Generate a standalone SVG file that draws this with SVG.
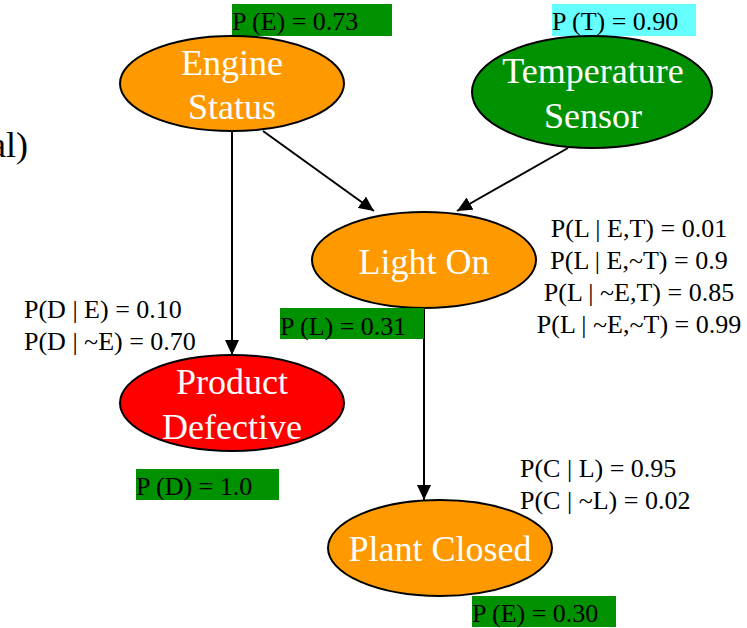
<svg xmlns="http://www.w3.org/2000/svg" width="747" height="628" viewBox="0 0 747 628">
  <defs>
    <marker id="arr" markerUnits="userSpaceOnUse" markerWidth="16" markerHeight="14" refX="15" refY="7" orient="auto">
      <path d="M0,0 L15,7 L0,14 Z" fill="#000"/>
    </marker>
    <style>
      text { font-family: "Liberation Serif", "Times New Roman", serif; }
      .node { stroke: #000; stroke-width: 2; }
      .lbl { fill: #fff; font-size: 36px; text-anchor: middle; }
      .cpt { fill: #000; font-size: 26px; }
      .prob { fill: #000; font-size: 26px; }
      .edge { stroke: #000; stroke-width: 2; fill: none; marker-end: url(#arr); }
      .green { fill: #009100; }
    </style>
  </defs>
  <rect width="747" height="628" fill="#fff"/>

  <text x="28" y="157" text-anchor="end" style="font-size:36px" fill="#000">al)</text>

  <g id="connectors">
    <line class="edge" x1="232" y1="131" x2="232" y2="355"/>
    <line class="edge" x1="263" y1="131" x2="374" y2="211"/>
    <line class="edge" x1="568" y1="148" x2="457" y2="211"/>
    <line class="edge" x1="424" y1="308" x2="424" y2="500"/>
  </g>

  <g id="engine">
    <rect class="green" x="232" y="4" width="160" height="32"/>
    <text class="prob" x="232" y="30">P (E) = 0.73</text>
    <ellipse class="node" cx="232" cy="83.5" rx="112" ry="47.5" fill="#ff9900"/>
    <text class="lbl" x="232" y="75">Engine</text>
    <text class="lbl" x="232" y="119">Status</text>
  </g>

  <g id="temperature">
    <rect x="552" y="4" width="144" height="32" fill="#66ffff"/>
    <text class="prob" x="552" y="30">P (T) = 0.90</text>
    <ellipse class="node" cx="592" cy="92" rx="120" ry="56" fill="#009100"/>
    <text class="lbl" x="593" y="83">Temperature</text>
    <text class="lbl" x="593" y="128">Sensor</text>
  </g>

  <g id="light">
    <ellipse class="node" cx="424" cy="260" rx="112" ry="48" fill="#ff9900"/>
    <text class="lbl" x="424" y="274">Light On</text>
    <rect class="green" x="280" y="308" width="144" height="31"/>
    <text class="prob" x="280" y="335">P (L) = 0.31</text>
    <text class="cpt" x="639" y="237" text-anchor="middle">P(L | E,T) = 0.01</text>
    <text class="cpt" x="639" y="269" text-anchor="middle">P(L | E,~T) = 0.9</text>
    <text class="cpt" x="639" y="301" text-anchor="middle">P(L | ~E,T) = 0.85</text>
    <text class="cpt" x="639" y="333" text-anchor="middle">P(L | ~E,~T) = 0.99</text>
  </g>

  <g id="defective">
    <text class="cpt" x="24" y="318">P(D | E) = 0.10</text>
    <text class="cpt" x="24" y="350">P(D | ~E) = 0.70</text>
    <ellipse class="node" cx="232" cy="403" rx="112" ry="48" fill="#ff0000"/>
    <text class="lbl" x="232" y="394">Product</text>
    <text class="lbl" x="232" y="439">Defective</text>
    <rect class="green" x="136" y="469" width="143" height="31"/>
    <text class="prob" x="136" y="495">P (D) = 1.0</text>
  </g>

  <g id="plant">
    <text class="cpt" x="520" y="477">P(C | L) = 0.95</text>
    <text class="cpt" x="520" y="509">P(C | ~L) = 0.02</text>
    <ellipse class="node" cx="440" cy="548" rx="112" ry="48" fill="#ff9900"/>
    <text class="lbl" x="440" y="561">Plant Closed</text>
    <rect class="green" x="472" y="596" width="144" height="31"/>
    <text class="prob" x="472" y="622">P (E) = 0.30</text>
  </g>
</svg>
